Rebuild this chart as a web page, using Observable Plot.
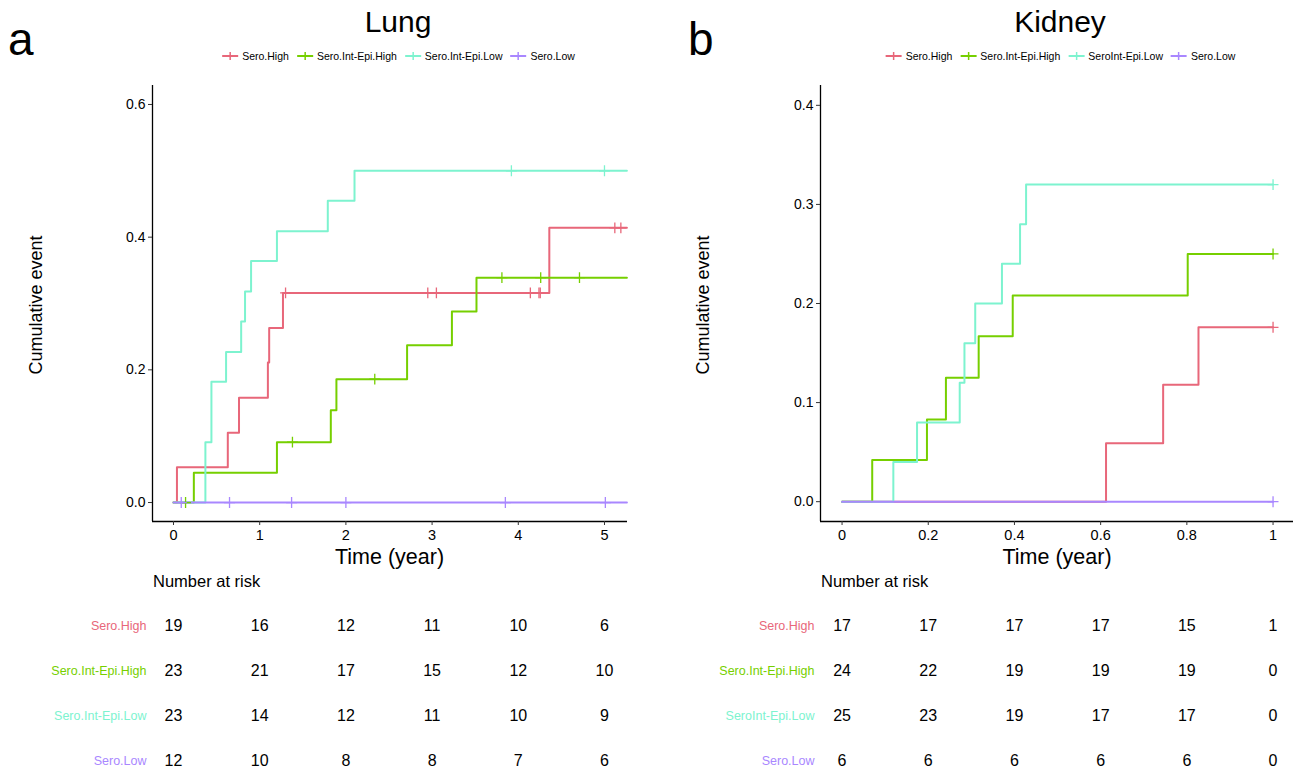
<!DOCTYPE html>
<html>
<head>
<meta charset="utf-8">
<script src="https://cdn.jsdelivr.net/npm/d3@7"></script>
<script src="https://cdn.jsdelivr.net/npm/@observablehq/plot@0.6"></script>
<style>
  html, body { margin: 0; padding: 0; background: #fff; }
  body { width: 1293px; height: 770px; position: relative; overflow: hidden;
         font-family: "Liberation Sans", Arial, Helvetica, sans-serif; color: #000; }
  .abs { position: absolute; white-space: nowrap; }
  .tag { font-size: 46px; line-height: 1; }
  .title { font-size: 30px; line-height: 1; transform: translateX(-50%); }
  .legend { font-size: 10.5px; display: flex; align-items: center; gap: 7px; transform: translateX(-50%); }
  .legend span.item { display: inline-flex; align-items: center; gap: 3px; }
  .ytitle { font-size: 18px; transform: translate(-50%, -50%) rotate(-90deg); }
  .xtitle { font-size: 21.5px; transform: translate(-50%, -50%); }
  .risk { font-size: 16.5px; transform: translateY(-50%); }
  g[aria-label="x-axis tick"], g[aria-label="y-axis tick"] { stroke: #333; }
</style>
</head>
<body>
<script>
// ---------------- data ----------------
const lungGroups   = ["Sero.High", "Sero.Int-Epi.High", "Sero.Int-Epi.Low", "Sero.Low"];
const kidneyGroups = ["Sero.High", "Sero.Int-Epi.High", "SeroInt-Epi.Low", "Sero.Low"];
const groupColors  = ["#E8677A", "#76CF00", "#7DF3CF", "#A987FF"];

// Lung cumulative event curves (time in years, cumulative event)
const lungHighT    = [0, 0.04, 0.63, 0.76, 1.095, 1.11, 1.27, 4.36, 5.26];
const lungHighV    = [0, 0.053, 0.105, 0.158, 0.211, 0.263, 0.316, 0.414, 0.414];
const lungHighC    = [1.30, 2.95, 3.05, 4.14, 4.24, 4.255, 5.12, 5.19];
const lungIntHighT = [0, 0.236, 1.20, 1.825, 1.89, 2.71, 3.23, 3.515, 5.26];
const lungIntHighV = [0, 0.045, 0.091, 0.139, 0.186, 0.237, 0.288, 0.339, 0.339];
const lungIntHighC = [0.14, 1.38, 2.335, 3.81, 4.26, 4.71];
const lungIntLowT  = [0, 0.37, 0.44, 0.61, 0.785, 0.83, 0.90, 1.20, 1.79, 2.10, 5.26];
const lungIntLowV  = [0, 0.091, 0.182, 0.227, 0.273, 0.318, 0.364, 0.409, 0.455, 0.5, 0.5];
const lungIntLowC  = [3.92, 5.0];
const lungLowT     = [0, 5.26];
const lungLowV     = [0, 0];
const lungLowC     = [0.09, 0.65, 1.37, 2.0, 3.85, 5.01];

// Kidney cumulative event curves
const kidHighT    = [0, 0.6125, 0.745, 0.827, 1.0];
const kidHighV    = [0, 0.059, 0.118, 0.176, 0.176];
const kidHighC    = [1.0];
const kidIntHighT = [0, 0.070, 0.197, 0.241, 0.317, 0.396, 0.802, 1.0];
const kidIntHighV = [0, 0.042, 0.083, 0.125, 0.167, 0.208, 0.25, 0.25];
const kidIntHighC = [1.0];
const kidIntLowT  = [0, 0.119, 0.174, 0.273, 0.284, 0.309, 0.371, 0.413, 0.427, 1.0];
const kidIntLowV  = [0, 0.04, 0.08, 0.12, 0.16, 0.20, 0.24, 0.28, 0.32, 0.32];
const kidIntLowC  = [1.0];
const kidLowT     = [0, 1.0];
const kidLowV     = [0, 0];
const kidLowC     = [1.0];

// Axis ticks
const lungXTicks = [0, 1, 2, 3, 4, 5];
const lungYTicks = [0, 0.2, 0.4, 0.6];
const kidXTicks  = [0, 0.2, 0.4, 0.6, 0.8, 1];
const kidYTicks  = [0, 0.1, 0.2, 0.3, 0.4];

// Numbers at risk
const lungRiskHigh    = [19, 16, 12, 11, 10, 6];
const lungRiskIntHigh = [23, 21, 17, 15, 12, 10];
const lungRiskIntLow  = [23, 14, 12, 11, 10, 9];
const lungRiskLow     = [12, 10, 8, 8, 7, 6];
const kidRiskHigh     = [17, 17, 17, 17, 15, 1];
const kidRiskIntHigh  = [24, 22, 19, 19, 19, 0];
const kidRiskIntLow   = [25, 23, 19, 17, 17, 0];
const kidRiskLow      = [6, 6, 6, 6, 6, 0];

// ---------------- helpers ----------------
function stepAt(t, T, V) { let v = V[0]; for (let i = 0; i < T.length; i++) if (T[i] <= t) v = V[i]; return v; }
function curveRows(groups, series) {
  const lines = [], cens = [];
  series.forEach(([T, V, C], gi) => {
    T.forEach((t, i) => lines.push({group: groups[gi], t, v: V[i]}));
    C.forEach(t => cens.push({group: groups[gi], t, v: stepAt(t, T, V)}));
  });
  return {lines, cens};
}
function riskRows(groups, times, risks) {
  const rows = [];
  risks.forEach((r, gi) => r.forEach((n, i) => rows.push({group: groups[gi], t: times[i], n})));
  return rows;
}
const FONT = '"Liberation Sans", Arial, Helvetica, sans-serif';

function place(el, left, top) {
  el.style.position = "absolute"; el.style.left = left + "px"; el.style.top = top + "px";
  document.body.appendChild(el);
}
function text(cls, str, left, top, extra) {
  const d = document.createElement("div");
  d.className = "abs " + cls; d.textContent = str;
  d.style.left = left + "px"; d.style.top = top + "px";
  if (extra) Object.assign(d.style, extra);
  document.body.appendChild(d);
  return d;
}
function legend(groups, cx, cy) {
  const d = document.createElement("div");
  d.className = "abs legend";
  d.style.left = cx + "px"; d.style.top = (cy - 7) + "px";
  groups.forEach((g, i) => {
    const s = document.createElement("span"); s.className = "item";
    s.innerHTML = `<svg width="18" height="14"><line x1="1" x2="17" y1="7" y2="7" stroke="${groupColors[i]}" stroke-width="2"/><line x1="9" x2="9" y1="3" y2="11" stroke="${groupColors[i]}" stroke-width="1.5"/></svg><span>${g}</span>`;
    d.appendChild(s);
  });
  document.body.appendChild(d);
}

function panel(cfg) {
  const {groups, series, xDomain, yDomain, xTicks, yTicks, yFmt, times, risks,
         left, width, mL, mR, tag, title, tagX, titleX, yTitleX} = cfg;
  const {lines, cens} = curveRows(groups, series);
  const color = {domain: groups, range: groupColors};
  const curves = Plot.plot({
    width, height: 500, marginLeft: mL, marginRight: mR, marginTop: 15, marginBottom: 49,
    style: {fontSize: "14px", fontFamily: FONT, background: "white", color: "black", overflow: "visible"},
    x: {domain: xDomain}, y: {domain: yDomain}, color,
    marks: [
      Plot.line(lines, {x: "t", y: "v", z: "group", stroke: "group", curve: "step-after", strokeWidth: 2}),
      Plot.dot(cens, {x: "t", y: "v", stroke: "group", symbol: "plus", r: 3.6, strokeWidth: 1.3}),
      Plot.ruleX([xDomain[0]], {stroke: "black", strokeWidth: 1.3}),
      Plot.ruleY([yDomain[0]], {stroke: "black", strokeWidth: 1.3}),
      Plot.axisX({ticks: xTicks, tickFormat: d => String(d), tickSize: 4, tickPadding: 4, label: null, fontSize: 14.5}),
      Plot.axisY({ticks: yTicks, tickFormat: yFmt, tickSize: 4, tickPadding: 3, label: null, fontSize: 14})
    ]
  });
  place(curves, left, 70);

  const rr = riskRows(groups, times, risks);
  const table = Plot.plot({
    width, height: 170, marginLeft: mL, marginRight: mR, marginTop: 25, marginBottom: 10,
    style: {fontSize: "14px", fontFamily: FONT, background: "transparent", color: "black", overflow: "visible"},
    x: {domain: xDomain, axis: null},
    y: {type: "point", domain: groups, padding: 0, axis: null},
    color,
    marks: [
      Plot.text(rr, {x: "t", y: "group", text: d => String(d.n), fill: "black", fontSize: 16}),
      Plot.text(groups, {y: d => d, frameAnchor: "left", textAnchor: "end", dx: -6, text: d => d,
                         fill: d => d, fontSize: 12.5})
    ]
  });
  place(table, left, 600);

  text("tag", tag, tagX, 16);
  text("title", title, titleX, 7);
  legend(groups, titleX, 56);
  text("ytitle", "Cumulative event", yTitleX, 305);
  text("xtitle", "Time (year)", left + mL + (width - mL - mR) / 2, 557);
  text("risk", "Number at risk", left + mL + 1, 581);
}

panel({
  groups: lungGroups,
  series: [[lungHighT, lungHighV, lungHighC], [lungIntHighT, lungIntHighV, lungIntHighC],
           [lungIntLowT, lungIntLowV, lungIntLowC], [lungLowT, lungLowV, lungLowC]],
  xDomain: [-0.2436, 5.267], yDomain: [-0.0286, 0.6286],
  xTicks: lungXTicks, yTicks: lungYTicks, yFmt: d3.format(".1f"),
  times: lungXTicks,
  risks: [lungRiskHigh, lungRiskIntHigh, lungRiskIntLow, lungRiskLow],
  left: 0, width: 646, mL: 152, mR: 19, tag: "a", title: "Lung", tagX: 8, titleX: 398, yTitleX: 36
});
panel({
  groups: kidneyGroups,
  series: [[kidHighT, kidHighV, kidHighC], [kidIntHighT, kidIntHighV, kidIntHighC],
           [kidIntLowT, kidIntLowV, kidIntLowC], [kidLowT, kidLowV, kidLowC]],
  xDomain: [-0.05, 1.05], yDomain: [-0.02, 0.42],
  xTicks: kidXTicks, yTicks: kidYTicks, yFmt: d3.format(".1f"),
  times: kidXTicks,
  risks: [kidRiskHigh, kidRiskIntHigh, kidRiskIntLow, kidRiskLow],
  left: 646, width: 660, mL: 174, mR: 11.9, tag: "b", title: "Kidney", tagX: 688, titleX: 1060, yTitleX: 703
});
</script>
</body>
</html>
